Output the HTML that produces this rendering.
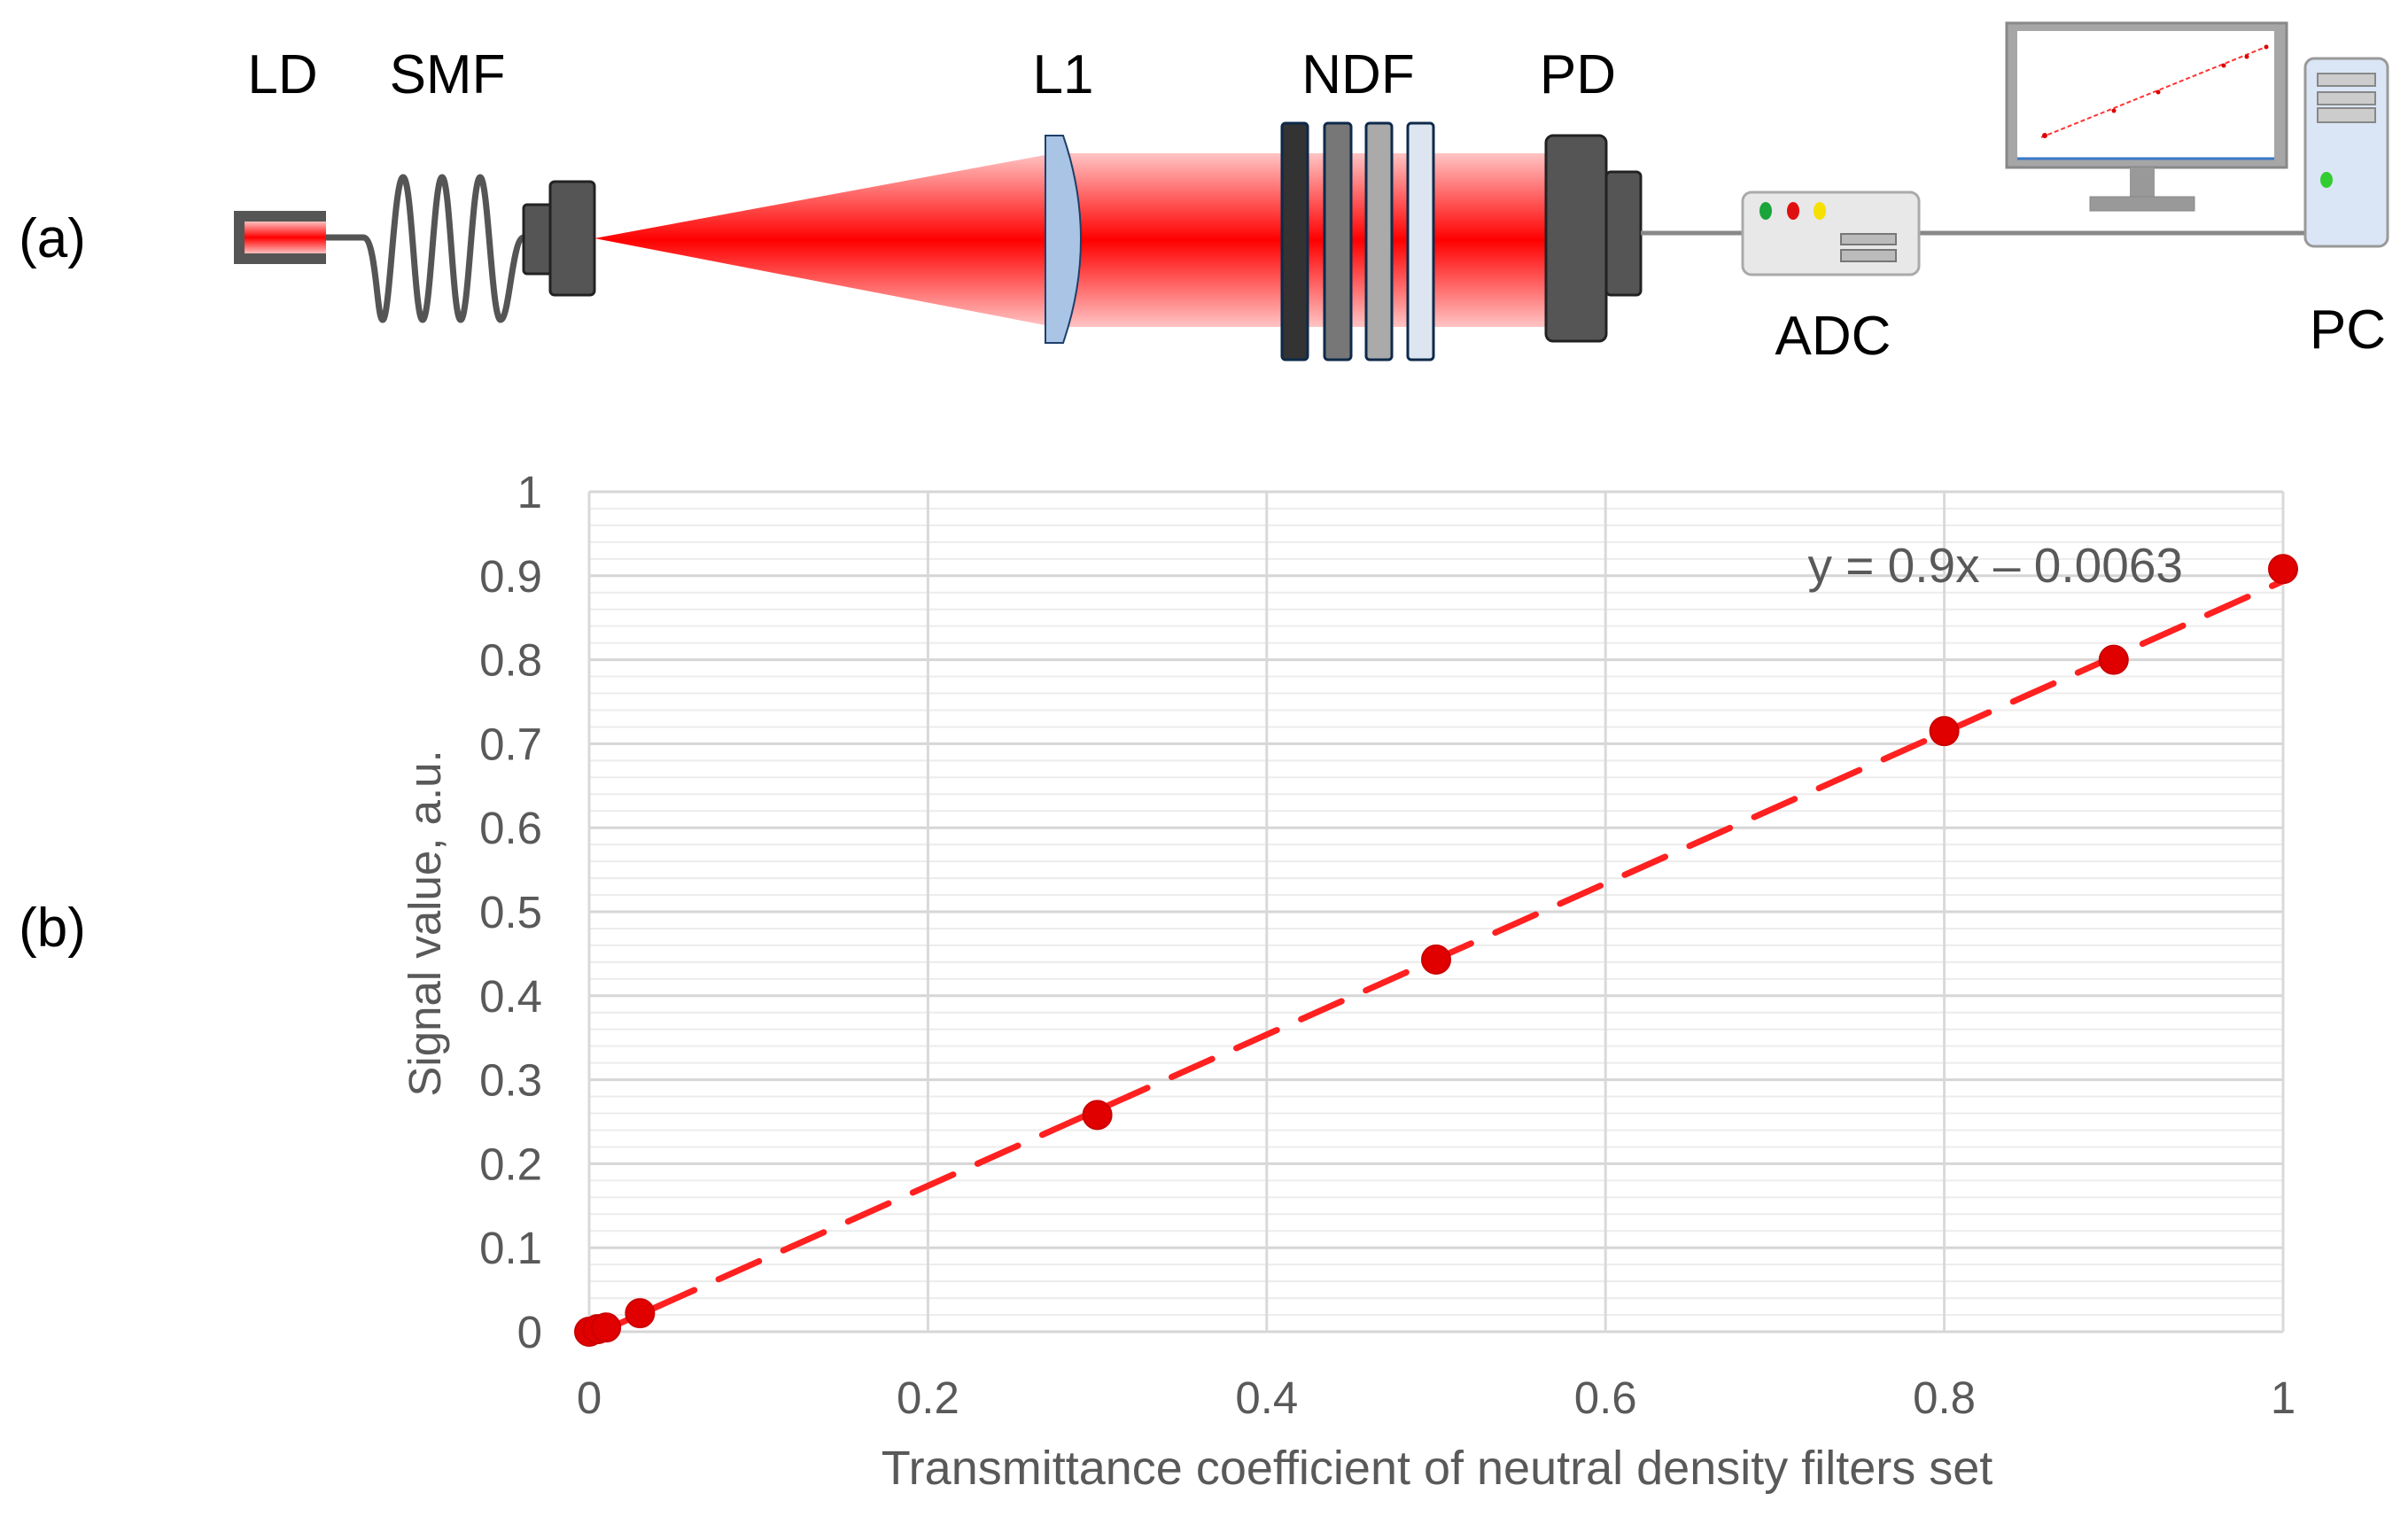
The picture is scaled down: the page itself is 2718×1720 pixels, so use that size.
<!DOCTYPE html>
<html><head><meta charset="utf-8">
<style>
html,body{margin:0;padding:0;background:#fff;}
svg{display:block;font-family:"Liberation Sans",sans-serif;}
</style></head>
<body>
<svg id="fig" width="2718" height="1720" viewBox="0 0 2718 1720" xmlns="http://www.w3.org/2000/svg">
<defs>
<linearGradient id="beamV" x1="0" y1="0" x2="0" y2="1">
<stop offset="0" stop-color="#ffc4c4"/><stop offset="0.5" stop-color="#ff0000"/><stop offset="1" stop-color="#ffc4c4"/>
</linearGradient>
<linearGradient id="ldG" x1="0" y1="0" x2="0" y2="1">
<stop offset="0" stop-color="#fff"/><stop offset="0.5" stop-color="#ff0000"/><stop offset="1" stop-color="#fff"/>
</linearGradient>
</defs>
<g>
<text x="59" y="290" font-size="62" text-anchor="middle" fill="#000">(a)</text>
<text x="319" y="105" font-size="62" text-anchor="middle">LD</text>
<text x="505" y="105" font-size="62" text-anchor="middle">SMF</text>
<text x="1200" y="105" font-size="62" text-anchor="middle">L1</text>
<text x="1533" y="105" font-size="62" text-anchor="middle">NDF</text>
<text x="1781" y="105" font-size="62" text-anchor="middle">PD</text>
<text x="2069" y="400" font-size="62" text-anchor="middle">ADC</text>
<text x="2650" y="393" font-size="62" text-anchor="middle">PC</text>
<g>
<rect x="270" y="244" width="98" height="48" fill="url(#ldG)"/>
<path d="M368 244 H270 V292 H368" fill="none" stroke="#555" stroke-width="12"/>
</g>
<path d="M368 268 H410 C425 268 425 361 432 361 C440 361 445 200 455 200 C465 200 468 361 477 361 C486 361 490 200 499 200 C508 200 511 361 520 361 C529 361 533 200 542 200 C551 200 555 361 565 361 C575 361 578 268 591 268" fill="none" stroke="#555" stroke-width="7"/>
<rect x="591" y="231" width="33" height="78" rx="4" fill="#555" stroke="#222" stroke-width="3"/>
<rect x="621" y="205" width="50" height="128" rx="5" fill="#555" stroke="#222" stroke-width="3"/>
<polygon points="671,269 1190,173 1190,369" fill="url(#beamV)"/>
<rect x="1200" y="173" width="545" height="196" fill="url(#beamV)"/>
<path d="M1180 153 H1200 Q1240 270 1200 387 H1180 Z" fill="#a9c4e4" stroke="#1f3f6a" stroke-width="2"/>
<rect x="1447" y="139" width="29" height="267" rx="4" fill="#333" stroke="#0e2a4a" stroke-width="3"/>
<rect x="1495" y="139" width="30" height="267" rx="4" fill="#777" stroke="#0e2a4a" stroke-width="3"/>
<rect x="1542" y="139" width="29" height="267" rx="4" fill="#aaa" stroke="#0e2a4a" stroke-width="3"/>
<rect x="1589" y="139" width="29" height="267" rx="4" fill="#dde6f0" stroke="#0e2a4a" stroke-width="3"/>
<rect x="1745" y="153" width="68" height="232" rx="8" fill="#555" stroke="#222" stroke-width="3"/>
<rect x="1813" y="194" width="39" height="139" rx="5" fill="#555" stroke="#222" stroke-width="3"/>
<line x1="1852" y1="263" x2="2602" y2="263" stroke="#888" stroke-width="5"/>
<g>
<rect x="1967" y="217" width="199" height="93" rx="10" fill="#e8e8e8" stroke="#aaa" stroke-width="3"/>
<ellipse cx="1993" cy="238" rx="7" ry="10" fill="#1aa53a"/>
<ellipse cx="2024" cy="238" rx="7" ry="10" fill="#e01010"/>
<ellipse cx="2054" cy="238" rx="7" ry="10" fill="#f5e000"/>
<rect x="2078" y="264" width="62" height="12" fill="#bbb" stroke="#777" stroke-width="2"/>
<rect x="2078" y="282" width="62" height="13" fill="#bbb" stroke="#777" stroke-width="2"/>
</g>
<g>
<rect x="2265" y="26" width="316" height="163" fill="#a6a6a6" stroke="#888" stroke-width="3"/>
<rect x="2277" y="35" width="290" height="145" fill="#fff"/>
<line x1="2277" y1="179" x2="2567" y2="179" stroke="#3a78c8" stroke-width="3"/>
<line x1="2304" y1="155" x2="2560" y2="52" stroke="#f33" stroke-width="2" stroke-dasharray="5 3"/>
<circle cx="2308" cy="153" r="3" fill="#d00"/><circle cx="2386" cy="125" r="2.5" fill="#d00"/><circle cx="2436" cy="104" r="2.5" fill="#d00"/><circle cx="2510" cy="74" r="2.5" fill="#d00"/><circle cx="2536" cy="64" r="2.5" fill="#d00"/><circle cx="2558" cy="53" r="2.5" fill="#d00"/>
<rect x="2404" y="189" width="28" height="33" fill="#999"/>
<rect x="2359" y="222" width="118" height="16" fill="#999" stroke="#888"/>
</g>
<g>
<rect x="2602" y="66" width="93" height="212" rx="10" fill="#dae6f5" stroke="#999" stroke-width="3"/>
<rect x="2616" y="83" width="65" height="14" fill="#ccc" stroke="#888" stroke-width="2"/>
<rect x="2616" y="104" width="65" height="14" fill="#ccc" stroke="#888" stroke-width="2"/>
<rect x="2616" y="122" width="65" height="16" fill="#ccc" stroke="#888" stroke-width="2"/>
<ellipse cx="2626" cy="203" rx="7" ry="9" fill="#3c3"/>
</g>
</g>
<text x="59" y="1068" font-size="62" text-anchor="middle">(b)</text>
<g id="chart"></g>
</svg>
<script>
const xTicks = [0, 0.2, 0.4, 0.6, 0.8, 1];
const xTickLabels = ["0", "0.2", "0.4", "0.6", "0.8", "1"];
const yTicks = [0, 0.1, 0.2, 0.3, 0.4, 0.5, 0.6, 0.7, 0.8, 0.9, 1];
const yTickLabels = ["0", "0.1", "0.2", "0.3", "0.4", "0.5", "0.6", "0.7", "0.8", "0.9", "1"];
const transmittance = [0, 0.005, 0.01, 0.03, 0.3, 0.5, 0.8, 0.9, 1];
const signal = [0, 0.003, 0.005, 0.022, 0.258, 0.443, 0.715, 0.8, 0.908];
const trendSlope = 0.9;
const trendIntercept = -0.0063;
const trendLabel = "y = 0.9x – 0.0063";

const NS = "http://www.w3.org/2000/svg";
const X0 = 665, X1 = 2577, YT = 555, YB = 1503;
function sx(v){ return X0 + v * (X1 - X0); }
function sy(v){ return YB - v * (YB - YT); }
const g = document.getElementById('chart');
function mk(tag, attrs, parent){
  const e = document.createElementNS(NS, tag);
  for (const k in attrs) e.setAttribute(k, attrs[k]);
  (parent || g).appendChild(e);
  return e;
}
for (let i = 0; i <= 50; i++) {
  if (i % 5 === 0) continue;
  const y = sy(i * 0.02);
  const l = mk('line', {x1: X0, x2: X1, y1: y, y2: y, stroke: '#ececec', 'stroke-width': 2});
  
  
}
yTicks.forEach((v, i) => {
  const y = sy(v);
  const l = mk('line', {x1: X0, x2: X1, y1: y, y2: y, stroke: '#d6d6d6', 'stroke-width': 3});
  
  
  const t = mk('text', {x: 612, y: y + 18, 'font-size': 51, 'text-anchor': 'end', fill: '#595959'});
  t.textContent = yTickLabels[i];
  
  
});
xTicks.forEach((v, i) => {
  const x = sx(v);
  const l = mk('line', {x1: x, x2: x, y1: YT, y2: YB, stroke: '#d9d9d9', 'stroke-width': 3});
  
  
  const t = mk('text', {x: x, y: 1595, 'font-size': 51, 'text-anchor': 'middle', fill: '#595959'});
  t.textContent = xTickLabels[i];
  
  
});
const xt = mk('text', {x: 1622, y: 1675, 'font-size': 54, 'text-anchor': 'middle', fill: '#595959'});
xt.textContent = 'Transmittance coefficient of neutral density filters set';


const yt = mk('text', {x: 0, y: 0, 'font-size': 51, 'text-anchor': 'middle', fill: '#595959', transform: 'translate(497,1042) rotate(-90)'});
yt.textContent = 'Signal value, a.u.';


const tl = mk('line', {x1: sx(0), y1: sy(trendIntercept), x2: sx(1), y2: sy(trendSlope + trendIntercept), stroke: '#ff2020', 'stroke-width': 7, 'stroke-dasharray': '50 30', 'stroke-linecap': 'round'});


const eq = mk('text', {x: 2464, y: 657, 'font-size': 55, 'text-anchor': 'end', fill: '#595959'});
eq.textContent = trendLabel;


transmittance.forEach((v, i) => {
  const c = mk('circle', {cx: sx(v), cy: sy(signal[i]), r: 16, fill: '#e00000', stroke: '#c00', 'stroke-width': 2});
  
  
});
</script>
</body></html>
